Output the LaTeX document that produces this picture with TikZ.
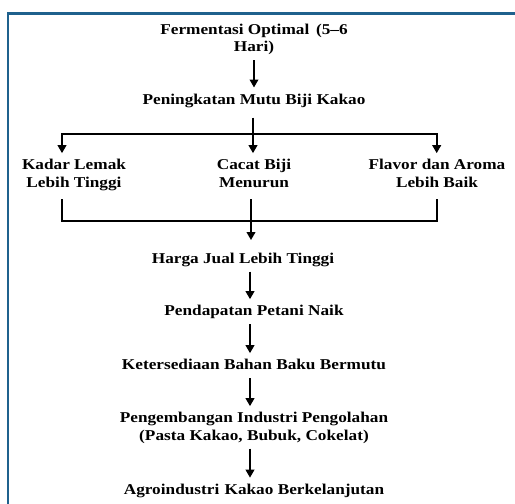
\documentclass[tikz,border=0pt]{standalone}
\usepackage{fontspec}
\usetikzlibrary{arrows.meta}
\newfontfamily\dfont[FakeStretch=1.15,Ligatures=TeX]{Liberation Serif}
\definecolor{framecol}{RGB}{31,97,141}
\tikzset{
  lbl/.style={font={\dfont\bfseries\fontsize{15}{17.7}\selectfont}, align=center, inner sep=0pt, outer sep=0pt, anchor=north},
  ln/.style={line width=2pt},
  arr/.style={line width=2pt, -{Triangle[width=8.5pt,length=8pt]}, shorten <=2.7pt, shorten >=4.4pt},
  framel/.style={draw=framecol, line width=2.4pt},
}
\begin{document}
\begin{tikzpicture}[x=1pt,y=-1pt]
\useasboundingbox (0,0) rectangle (515,504);
\fill[white] (0,0) rectangle (515,504);
\draw[framel] (8,504) -- (8,13.5) -- (515,13.5);

\node[lbl] (f) at (254,21.9) {\strut Fermentasi Optimal\hspace{0.45em}(5–6\\\strut Hari)};
\node[lbl] (p) at (254,91.9) {\strut Peningkatan Mutu Biji Kakao};
\node[lbl] (k) at (74,157.6) {\strut Kadar Lemak\\\strut Lebih Tinggi};
\node[lbl] (c) at (254,157.6) {\strut Cacat Biji\\\strut Menurun};
\node[lbl] (fl) at (437,157.6) {\strut Flavor dan Aroma\\\strut Lebih Baik};
\node[lbl] (h) at (243,251.1) {\strut Harga Jual Lebih Tinggi};
\node[lbl] (pn) at (254,303.6) {\strut Pendapatan Petani Naik};
\node[lbl] (kt) at (254,357.6) {\strut Ketersediaan Bahan Baku Bermutu};
\node[lbl] (pg) at (254,410.6) {\strut Pengembangan Industri Pengolahan\\\strut (Pasta Kakao, Bubuk, Cokelat)};
\node[lbl] (ag) at (254,482.1) {\strut Agroindustri\hspace{0.35em}Kakao Berkelanjutan};

\coordinate (hl) at (62,134.3);
\coordinate (hm) at (253,134.3);
\coordinate (hr) at (436.7,134.3);
\coordinate (bl) at (62,220.5);
\coordinate (bm) at (251,220.5);
\coordinate (br) at (436.7,220.5);
\coordinate (sp) at (250,0);

\draw[arr] (f.south) -- (p.north);
\draw[ln, shorten <=8pt] (p.south -| hm) -- (hm);
\draw[ln, line cap=rect] (hl) -- (hr);
\draw[arr, shorten <=0pt] (hl) -- (k.north -| hl);
\draw[arr, shorten <=0pt] (hm) -- (c.north -| hm);
\draw[arr, shorten <=0pt] (hr) -- (fl.north -| hr);

\draw[ln, shorten <=6pt, shorten >=6pt] (k.south -| bl) -- (bl) -- (br) -- (fl.south -| br);
\draw[arr, shorten <=6pt, shorten >=11pt] (c.south -| bm) -- (h.north -| bm);

\draw[arr] (h.south -| sp) -- (pn.north -| sp);
\draw[arr] (pn.south -| sp) -- (kt.north -| sp);
\draw[arr] (kt.south -| sp) -- (pg.north -| sp);
\draw[arr] (pg.south -| sp) -- (ag.north -| sp);
\end{tikzpicture}
\end{document}
